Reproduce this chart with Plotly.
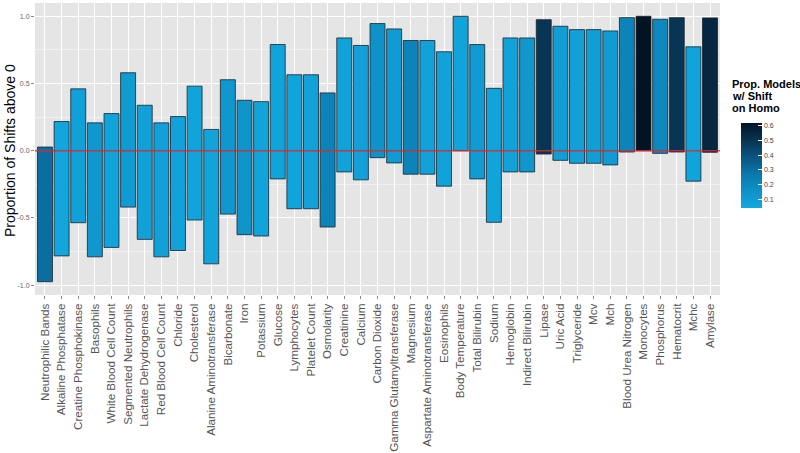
import plotly.graph_objects as go

categories = ["Neutrophilic Bands", "Alkaline Phosphatase", "Creatine Phosphokinase", "Basophils",
              "White Blood Cell Count", "Segmented Neutrophils", "Lactate Dehydrogenase",
              "Red Blood Cell Count", "Chloride", "Cholesterol", "Alanine Aminotransferase",
              "Bicarbonate", "Iron", "Potassium", "Glucose", "Lymphocytes", "Platelet Count",
              "Osmolarity", "Creatinine", "Calcium", "Carbon Dioxide", "Gamma Glutamyltransferase",
              "Magnesium", "Aspartate Aminotransferase", "Eosinophils", "Body Temperature",
              "Total Bilirubin", "Sodium", "Hemoglobin", "Indirect Bilirubin", "Lipase", "Uric Acid",
              "Triglyceride", "Mcv", "Mch", "Blood Urea Nitrogen", "Monocytes", "Phosphorus",
              "Hematocrit", "Mchc", "Amylase"]

upper = [0.027, 0.217, 0.460, 0.207, 0.276, 0.580, 0.338, 0.207, 0.254, 0.480, 0.158,
         0.528, 0.375, 0.365, 0.790, 0.565, 0.565, 0.430, 0.839, 0.783, 0.946, 0.906,
         0.820, 0.820, 0.736, 1.000, 0.790, 0.464, 0.839, 0.839, 0.975, 0.926,
         0.901, 0.901, 0.891, 0.990, 1.000, 0.978, 0.990, 0.773, 0.988]

lower = [-0.975, -0.783, -0.536, -0.790, -0.720, -0.420, -0.660, -0.790, -0.743, -0.516, -0.842,
         -0.472, -0.625, -0.635, -0.210, -0.432, -0.432, -0.568, -0.158, -0.217, -0.052, -0.091,
         -0.175, -0.175, -0.264, 0.000, -0.210, -0.533, -0.158, -0.158, -0.025, -0.072,
         -0.094, -0.094, -0.106, -0.010, 0.000, -0.020, -0.010, -0.227, -0.012]

prop_homo = [0.30, 0.05, 0.08, 0.12, 0.06, 0.10, 0.08, 0.08, 0.07, 0.06, 0.06,
             0.12, 0.14, 0.06, 0.06, 0.06, 0.07, 0.22, 0.07, 0.08, 0.15, 0.10,
             0.22, 0.07, 0.07, 0.06, 0.10, 0.06, 0.07, 0.12, 0.50, 0.09,
             0.08, 0.09, 0.10, 0.22, 0.62, 0.20, 0.50, 0.06, 0.55]

y_tick_vals = [-1.0, -0.5, 0.0, 0.5, 1.0]
y_tick_text = ["-1.0", "-0.5", "0.0", "0.5", "1.0"]
cb_tick_vals = [0.1, 0.2, 0.3, 0.4, 0.5, 0.6]
legend_title_lines = ["Prop. Models", "w/ Shift", "on Homo"]

heights = [u - l for u, l in zip(upper, lower)]

colorscale = [[0.0, "#12a8df"], [0.35, "#0c7fb4"], [0.7, "#0a4468"], [1.0, "#021424"]]

L, R, T, B = 35, 720, 3, 295
PW, PH = R - L, B - T

fig = go.Figure()
fig.add_trace(go.Bar(
    x=categories, y=heights, base=lower, width=0.9,
    marker=dict(
        color=prop_homo, colorscale=colorscale, cmin=0.04, cmax=0.62,
        line=dict(color="rgba(25,35,45,0.8)", width=1),
        showscale=True,
        colorbar=dict(
            x=(731 - L) / PW, xanchor="left", xref="paper",
            y=(B - 165.5) / PH, yanchor="middle",
            len=105, lenmode="pixels", thickness=21,
            outlinewidth=0,
            tickvals=cb_tick_vals, ticktext=[f"{v:.1f}" for v in cb_tick_vals],
            ticks="inside", ticklen=4, tickcolor="white", tickwidth=1,
            tickfont=dict(size=7, color="#444", family="Liberation Sans, Arial"),
        ),
    ),
    hoverinfo="skip",
))

fig.add_shape(type="line", xref="paper", yref="y", x0=0, x1=1, y0=0, y1=0,
              line=dict(color="rgba(215,40,50,0.85)", width=1.5), layer="above")

for i, txt in enumerate(legend_title_lines):
    fig.add_annotation(text="<b>" + txt + "</b>", xref="paper", yref="paper",
                       x=(730 - L) / PW, xanchor="left",
                       y=(B - (84 + 11.8 * i)) / PH, yanchor="middle",
                       showarrow=False,
                       font=dict(size=11, color="black", family="Liberation Sans, Arial"))

fig.add_annotation(text="Proportion of Shifts above 0", xref="paper", yref="paper",
                   x=(10 - L) / PW, xanchor="center", y=(B - 151) / PH, yanchor="middle",
                   textangle=-90, showarrow=False,
                   font=dict(size=14, color="black", family="Liberation Sans, Arial"))

fig.update_layout(
    width=800, height=453,
    margin=dict(l=L, r=800 - R, t=T, b=453 - B, pad=0, autoexpand=False),
    paper_bgcolor="white", plot_bgcolor="#e5e5e5",
    showlegend=False, bargap=0.1,
    font=dict(family="Liberation Sans, Arial", color="#555"),
)
fig.update_xaxes(
    range=[-0.6, 40.6], tickangle=-90, type="category", automargin=False,
    showgrid=True, gridcolor="white", gridwidth=1,
    ticks="outside", ticklen=3, tickcolor="#888",
    tickfont=dict(size=11.6, color="#555"),
    zeroline=False, showline=False,
)
fig.update_yaxes(
    range=[-1.074, 1.099], tickvals=y_tick_vals, ticktext=y_tick_text, automargin=False,
    showgrid=True, gridcolor="white", gridwidth=1,
    minor=dict(tickvals=[-0.75, -0.25, 0.25, 0.75], showgrid=True, gridcolor="#f0f0f0", gridwidth=0.5),
    ticks="outside", ticklen=3, tickcolor="#888",
    tickfont=dict(size=7, color="#666"),
    zeroline=False, showline=False,
)

fig.write_html("out.html", config={"displayModeBar": False},
               post_script="document.body.style.margin='0';document.body.style.overflow='hidden';")
